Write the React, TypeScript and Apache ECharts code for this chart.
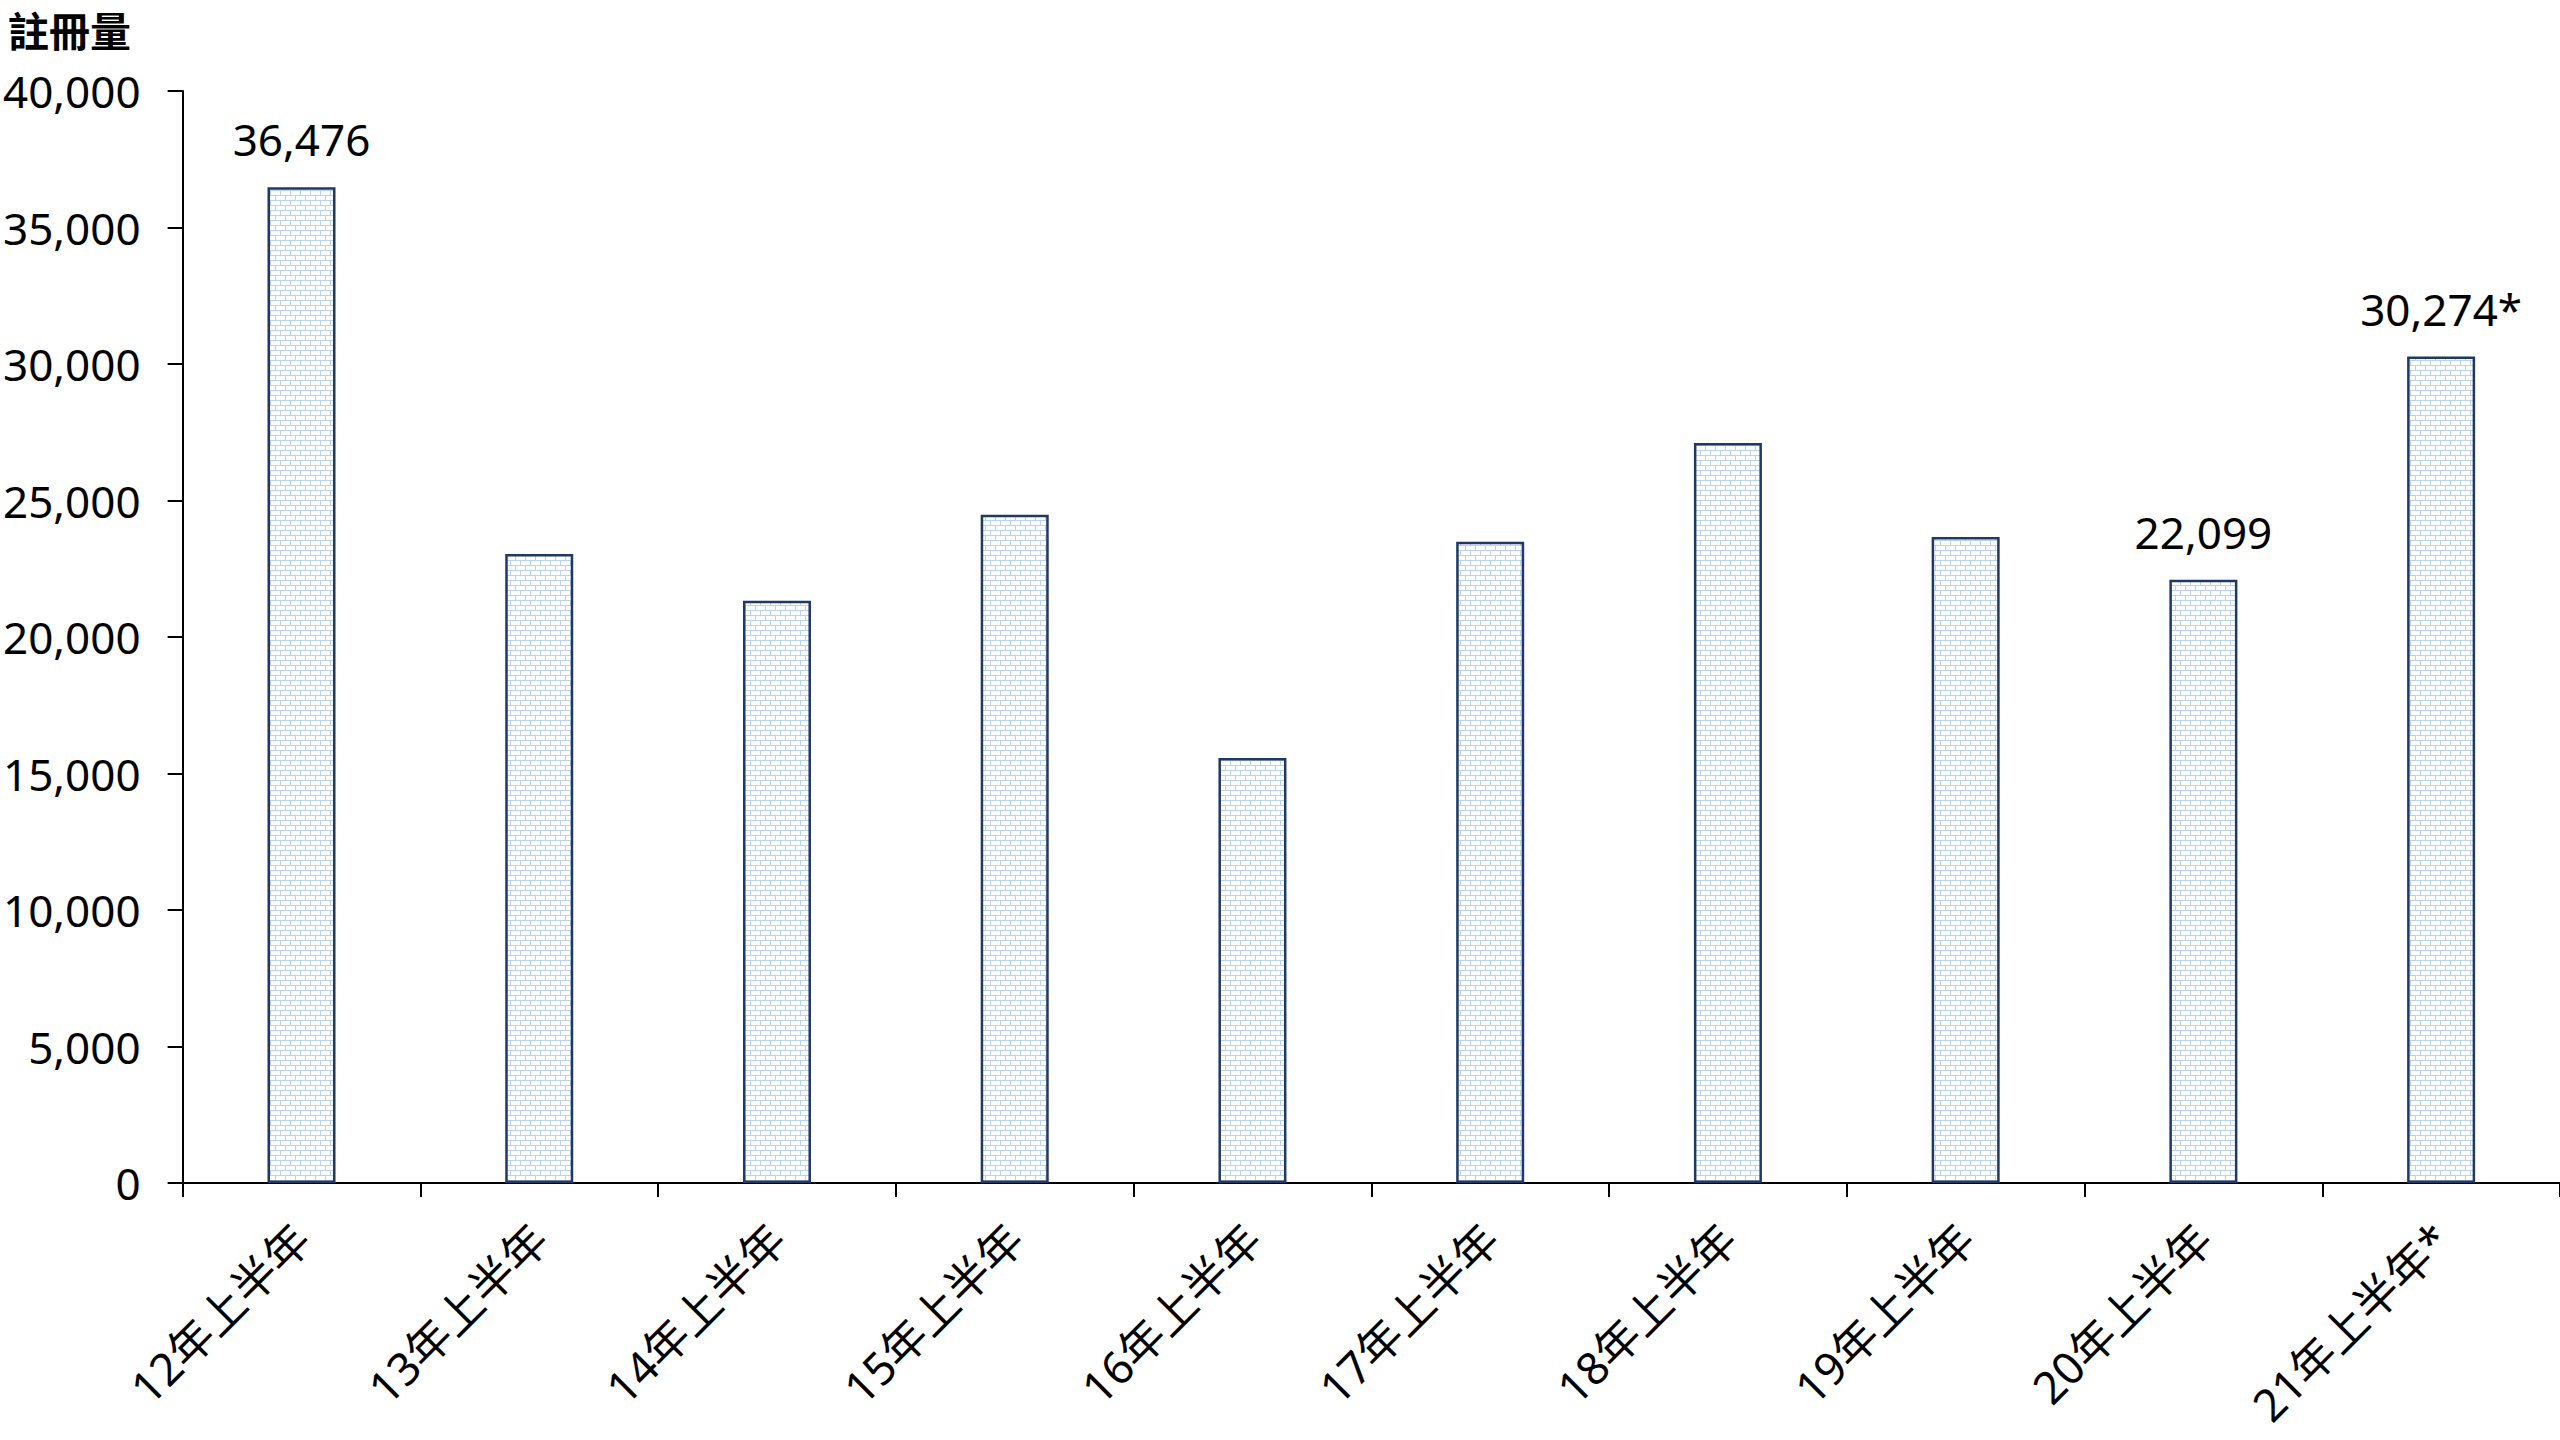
import React, { useEffect, useRef } from "react";
import * as echarts from "echarts";

const categories = [
  "12年上半年",
  "13年上半年",
  "14年上半年",
  "15年上半年",
  "16年上半年",
  "17年上半年",
  "18年上半年",
  "19年上半年",
  "20年上半年",
  "21年上半年*",
];
const values = [36476, 23040, 21330, 24480, 15570, 23490, 27110, 23660, 22099, 30274];
const dataLabels = ["36,476", "", "", "", "", "", "", "", "22,099", "30,274*"];
const yAxisName = "註冊量";
const yMin = 0;
const yMax = 40000;
const yInterval = 5000;

const FONT = "'Noto Sans', 'Noto Sans CJK TC', sans-serif";

function makeBrickPattern(): HTMLCanvasElement {
  const c = document.createElement("canvas");
  c.width = 10;
  c.height = 10;
  const ctx = c.getContext("2d")!;
  ctx.fillStyle = "#ffffff";
  ctx.fillRect(0, 0, 10, 10);
  ctx.fillStyle = "#b8d3ee";
  ctx.fillRect(0, 0, 10, 1);
  ctx.fillRect(0, 5, 10, 1);
  ctx.fillRect(0, 0, 1, 5);
  ctx.fillRect(5, 5, 1, 5);
  return c;
}

export default function App() {
  const ref = useRef<HTMLDivElement>(null);
  useEffect(() => {
    if (!ref.current) return;
    const chart = echarts.init(ref.current, null, { renderer: "svg" });
    const pattern = {
      image: makeBrickPattern(),
      repeat: "repeat",
      imageWidth: 10,
      imageHeight: 10,
    };
    chart.setOption({
      animation: false,
      backgroundColor: "#ffffff",
      title: {
        text: yAxisName,
        left: 8,
        top: 6,
        padding: 0,
        textStyle: { fontFamily: FONT, fontSize: 41, fontWeight: "bold", color: "#000", lineHeight: 50 },
      },
      grid: { left: 181, right: 0, top: 91, bottom: 257, containLabel: false },
      xAxis: {
        type: "category",
        data: categories,
        axisLine: { show: true, lineStyle: { color: "#000", width: 2 } },
        axisTick: { show: true, length: 14, lineStyle: { color: "#000", width: 2 } },
        axisLabel: {
          rotate: 45,
          interval: 0,
          margin: 48,
          fontSize: 45,
          fontFamily: FONT,
          color: "#000",
        },
      },
      yAxis: {
        type: "value",
        min: yMin,
        max: yMax,
        interval: yInterval,
        splitLine: { show: false },
        axisLine: { show: true, lineStyle: { color: "#000", width: 2 } },
        axisTick: { show: true, length: 15, lineStyle: { color: "#000", width: 2 } },
        axisLabel: {
          margin: 42,
          fontSize: 44,
          fontFamily: FONT,
          color: "#000",
          formatter: (v: number) => v.toLocaleString("en-US"),
        },
      },
      series: [
        {
          type: "bar",
          data: values,
          barWidth: 68,
          itemStyle: { color: pattern, borderColor: "#1f3864", borderWidth: 2.5 },
          label: {
            show: true,
            position: "top",
            distance: 26,
            fontSize: 44,
            fontFamily: FONT,
            color: "#000",
            formatter: (p: any) => dataLabels[p.dataIndex] || "",
          },
        },
      ],
    });
    return () => chart.dispose();
  }, []);
  return (
    <div
      ref={ref}
      style={{ position: "fixed", left: 0, top: 0, width: 2560, height: 1440, background: "#fff" }}
    />
  );
}
